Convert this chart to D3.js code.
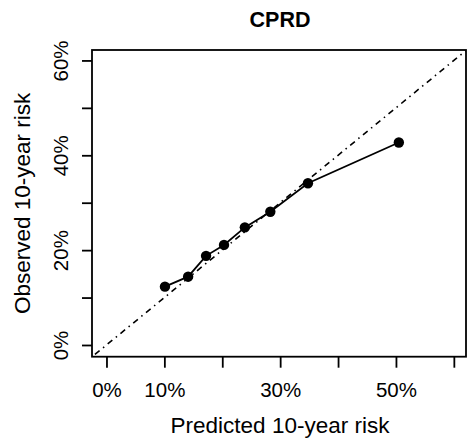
<!DOCTYPE html>
<html><head><meta charset="utf-8">
<script src="https://cdn.jsdelivr.net/npm/d3@7"></script>
<style>body{margin:0;background:#fff}svg{display:block}text{font-family:"Liberation Sans",Arial,sans-serif;fill:#000}</style>
</head><body><svg id="c" width="468" height="440"></svg>
<script>
const predicted = [10.1, 14.1, 17.2, 20.3, 23.9, 28.3, 34.8, 50.5];
const observed  = [12.3, 14.4, 18.8, 21.1, 24.8, 28.1, 34.1, 42.7];
const xTicks = [0, 10, 20, 30, 40, 50, 60];
const xTickLabels = ["0%", "10%", "", "30%", "", "50%", ""];
const yTicks = [0, 10, 20, 30, 40, 50, 60];
const yTickLabels = ["0%", "", "20%", "", "40%", "", "60%"];
const title = "CPRD";
const xLabel = "Predicted 10-year risk";
const yLabel = "Observed 10-year risk";

const svg = d3.select("#c");
const L = 92, R = 466, T = 50, B = 356.7;
const x = d3.scaleLinear().domain([-2.5, 62.1]).range([L, R]);
const y = d3.scaleLinear().domain([-2.47, 62.2]).range([B, T]);

svg.append("clipPath").attr("id","clip").append("rect")
  .attr("x", L).attr("y", T).attr("width", R - L).attr("height", B - T);

// diagonal reference
svg.append("line").attr("clip-path","url(#clip)")
  .attr("x1", x(-5)).attr("y1", y(-5)).attr("x2", x(70)).attr("y2", y(70))
  .attr("stroke","#000").attr("stroke-width",1.6)
  .attr("stroke-dasharray","1.5,4.5,6,4.5");

// data line
const pts = predicted.map((p,i)=>[p, observed[i]]);
svg.append("path").datum(pts)
  .attr("d", d3.line().x(d=>x(d[0])).y(d=>y(d[1])))
  .attr("fill","none").attr("stroke","#000").attr("stroke-width",1.8);
svg.selectAll("circle.pt").data(pts).join("circle").attr("class","pt")
  .attr("cx", d=>x(d[0])).attr("cy", d=>y(d[1])).attr("r",5.2).attr("fill","#000");

// box
svg.append("rect").attr("x", L).attr("y", T).attr("width", R - L).attr("height", B - T)
  .attr("fill","none").attr("stroke","#000").attr("stroke-width",1.8);

// x axis
const xa = svg.append("g").attr("transform",`translate(0,${B})`)
  .call(d3.axisBottom(x).tickValues(xTicks).tickSize(11).tickPadding(5)
    .tickFormat((d,i)=>xTickLabels[i]));
xa.select(".domain").remove();
xa.selectAll("line").attr("stroke-width",1.8);
xa.selectAll("text").attr("font-size","20.5px").attr("dy",null).attr("y",40)
  .style("font-family","'Liberation Sans',Arial,sans-serif");

// y axis
const ya = svg.append("g").attr("transform",`translate(${L},0)`)
  .call(d3.axisLeft(y).tickValues(yTicks).tickSize(10).tickFormat((d,i)=>yTickLabels[i]));
ya.select(".domain").remove();
ya.selectAll("line").attr("stroke-width",1.8);
ya.selectAll("text").attr("font-size","20.5px").attr("x",null).attr("dy",null)
  .attr("text-anchor","middle")
  .attr("transform","translate(-24,0) rotate(-90)")
  .style("font-family","'Liberation Sans',Arial,sans-serif");

// title
svg.append("text").attr("x", 280).attr("y", 26.7).attr("text-anchor","middle")
  .attr("font-size","21.5px").attr("font-weight","bold").text(title);
// axis labels
svg.append("text").attr("x", 280).attr("y", 433.3).attr("text-anchor","middle")
  .attr("font-size","22.5px").text(xLabel);
svg.append("text").attr("transform",`translate(30,${(T+B)/2}) rotate(-90)`)
  .attr("text-anchor","middle").attr("font-size","22.5px").text(yLabel);
</script></body></html>
